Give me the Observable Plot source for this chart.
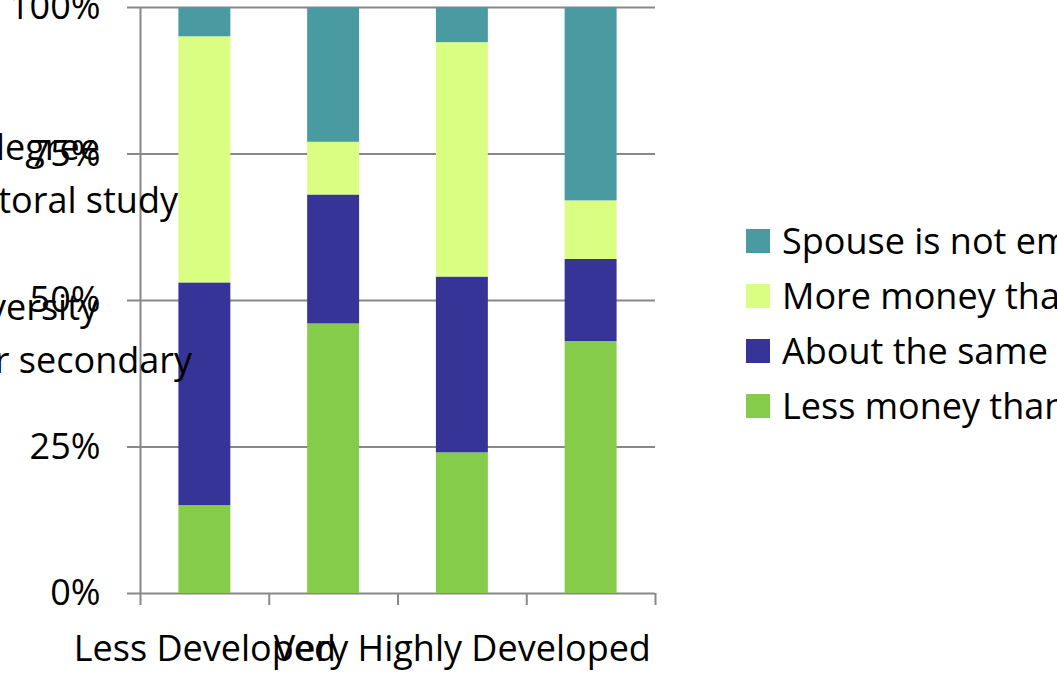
<!DOCTYPE html>
<html>
<head>
<meta charset="utf-8">
<script src="https://cdn.jsdelivr.net/npm/d3@7"></script>
<script src="https://cdn.jsdelivr.net/npm/@observablehq/plot@0.6"></script>
<style>
  body { margin: 0; background: #fff; }
  #chart { position: relative; width: 1057px; height: 684px; overflow: hidden; }
</style>
</head>
<body>
<div id="chart"></div>
<script>
// Development groups along the x axis; only two of them carry a printed label
const categories = ["Less Developed", "Developed", "Very Highly Developed", "Highly Developed"];
const tickLabels = ["Less Developed", "", "Very Highly Developed", ""];

// Stack order, bottom to top
const seriesNames = ["Less money than you", "About the same", "More money than you", "Spouse is not employed"];
const seriesColors = ["#86CC4B", "#363597", "#D9FE82", "#4A9AA2"];

// Shares (%) per group for each answer
const lessMoney   = [15, 46, 24, 43];
const sameMoney   = [38, 22, 30, 14];
const moreMoney   = [42,  9, 40, 10];
const notEmployed = [ 5, 23,  6, 33];

const yTicks = [0, 0.25, 0.5, 0.75, 1];

// Row labels of the education panel that runs in from the left
const sideLabels = ["degree", "doctoral study", "university", "upper secondary"];

const valuesBySeries = [lessMoney, sameMoney, moreMoney, notEmployed];
const rows = [];
categories.forEach((category, i) => {
  let acc = 0;
  seriesNames.forEach((series, k) => {
    const v = valuesBySeries[k][i];
    rows.push({i, category, series, y1: acc / 100, y2: (acc + v) / 100});
    acc += v;
  });
});
const labelRows = categories.map((c, i) => ({i, label: tickLabels[i]})).filter(d => d.label);

const FONT = "'Open Sans', sans-serif";
const FS = 36;
const GRID = "#888888";

const plot = Plot.plot({
  width: 1057,
  height: 684,
  marginLeft: 140,
  marginRight: 402,
  marginTop: 7,
  marginBottom: 91,
  style: {fontFamily: FONT, fontSize: FS + "px", color: "#000", background: "#fff", overflow: "visible"},
  x: {type: "linear", domain: [0, categories.length], axis: null},
  y: {domain: [0, 1], axis: null},
  color: {domain: seriesNames, range: seriesColors},
  marks: [
    Plot.gridY(yTicks, {stroke: GRID, strokeOpacity: 1, strokeWidth: 2}),
    Plot.axisY(yTicks, {
      tickSize: 13, tickPadding: 27, stroke: GRID, strokeWidth: 2, fill: "#000",
      fontSize: FS, tickFormat: d => Math.round(d * 100) + "%"
    }),
    Plot.axisX(d3.range(categories.length + 1), {
      anchor: "bottom", tickSize: 12, stroke: GRID, strokeWidth: 2, tickFormat: () => ""
    }),
    Plot.ruleX([0], {y1: 0, y2: 1, stroke: GRID, strokeWidth: 2}),
    Plot.rectY(rows, {
      x1: d => d.i, x2: d => d.i + 1, y1: "y1", y2: "y2", fill: "series",
      insetLeft: 38.4, insetRight: 38.4
    }),
    Plot.text(labelRows, {
      x: d => d.i + 0.5, y: () => 0, text: "label", dy: 56, fontSize: FS, fill: "#000"
    })
  ]
});

document.getElementById("chart").appendChild(plot);

const svg = d3.select(plot);
const color = plot.scale("color");

// Education labels, clipped by the left edge
const sidePos = [[100, 160], [178, 213], [98, 320], [192, 373]];
svg.append("g")
  .attr("font-family", FONT).attr("font-size", FS).attr("fill", "#000").attr("text-anchor", "end")
  .selectAll("text").data(sideLabels).join("text")
  .attr("x", (d, i) => sidePos[i][0]).attr("y", (d, i) => sidePos[i][1])
  .text(d => d);

// Legend, top entry = top of the stack
const legend = svg.append("g").attr("transform", "translate(746, 241)")
  .attr("font-family", FONT).attr("font-size", FS).attr("text-anchor", "start");
const entries = legend.selectAll("g").data(seriesNames.slice().reverse()).join("g")
  .attr("transform", (d, i) => `translate(0, ${i * 55})`);
entries.append("rect").attr("x", 0).attr("y", -12).attr("width", 24).attr("height", 24)
  .attr("fill", d => color.apply(d));
entries.append("text").attr("x", 36).attr("dy", "0.35em").attr("fill", "#000").text(d => d);
</script>
</body>
</html>
